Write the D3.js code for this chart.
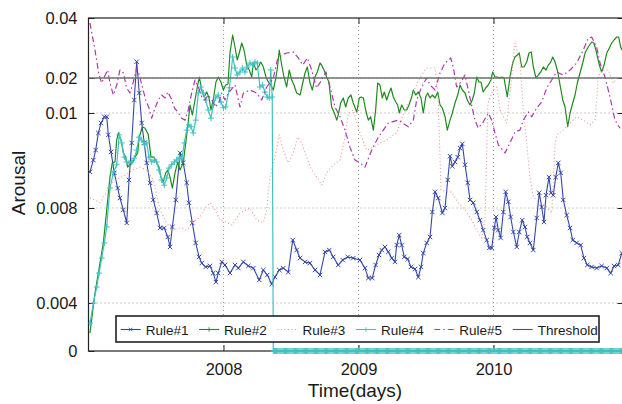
<!DOCTYPE html>
<html>
<head>
<meta charset="utf-8">
<script src="https://cdn.jsdelivr.net/npm/d3@7"></script>
<style>
  body { margin: 0; background: #fff; }
  svg { display: block; font-family: "Liberation Sans", Arial, Helvetica, sans-serif; }
</style>
</head>
<body>
<div id="chart"></div>
<script>
// time is stored as years since 1 Jan 2007
const startYear = 2007;
const lastYear = 2010.963;
const yearTicks = [2008, 2009, 2010];
const arousalTicks = [0, 0.004, 0.008, 0.01, 0.02, 0.04];
const arousalLabels = ["0", "0.004", "0.008", "0.01", "0.02", "0.04"];
const threshold = 0.02;
const legendNames = ["Rule#1", "Rule#2", "Rule#3", "Rule#4", "Rule#5", "Threshold"];

const rule1 = [[0.011,0.00876],[0.036,0.00901],[0.053,0.00922],[0.073,0.00958],[0.093,0.00979],[0.117,0.00992],[0.135,0.00992],[0.147,0.00954],[0.167,0.00918],[0.191,0.00874],[0.216,0.00842],[0.233,0.00821],[0.258,0.00792],[0.283,0.00737],[0.3,0.00859],[0.32,0.00937],[0.339,0.01372],[0.357,0.02543],[0.376,0.01572],[0.394,0.00979],[0.413,0.00937],[0.431,0.00895],[0.456,0.00853],[0.48,0.00817],[0.505,0.00779],[0.53,0.00716],[0.561,0.00716],[0.587,0.00678],[0.604,0.00636],[0.621,0.0072],[0.646,0.00817],[0.678,0.00916],[0.702,0.00895],[0.727,0.00853],[0.744,0.00811],[0.769,0.00737],[0.794,0.00653],[0.819,0.00594],[0.839,0.00568],[0.868,0.00552],[0.9,0.00556],[0.924,0.00526],[0.944,0.00488],[0.961,0.00526],[0.987,0.00573],[1.011,0.0056],[1.048,0.00526],[1.085,0.0056],[1.11,0.00547],[1.147,0.00573],[1.184,0.00556],[1.221,0.00547],[1.265,0.00497],[1.295,0.00539],[1.324,0.00518],[1.357,0.0048],[1.381,0.00509],[1.413,0.00539],[1.443,0.00547],[1.48,0.0053],[1.513,0.00665],[1.542,0.00623],[1.567,0.00589],[1.604,0.00573],[1.641,0.00568],[1.678,0.00539],[1.715,0.00518],[1.752,0.00615],[1.784,0.00623],[1.813,0.00594],[1.85,0.0056],[1.883,0.00581],[1.92,0.00594],[1.961,0.00589],[2.011,0.00581],[2.048,0.00547],[2.073,0.00505],[2.102,0.00505],[2.127,0.0056],[2.152,0.00602],[2.172,0.00623],[2.196,0.00636],[2.221,0.00615],[2.246,0.00589],[2.27,0.00573],[2.283,0.00644],[2.302,0.00686],[2.32,0.00644],[2.339,0.00594],[2.364,0.00585],[2.389,0.00552],[2.419,0.00543],[2.443,0.00509],[2.463,0.00552],[2.48,0.0061],[2.505,0.00653],[2.53,0.00678],[2.547,0.00783],[2.567,0.00834],[2.591,0.00821],[2.621,0.00779],[2.641,0.008],[2.661,0.00859],[2.678,0.00909],[2.695,0.00888],[2.715,0.00897],[2.735,0.00907],[2.752,0.00926],[2.769,0.00935],[2.789,0.00891],[2.809,0.00853],[2.826,0.00817],[2.85,0.00811],[2.876,0.00783],[2.9,0.00749],[2.924,0.00707],[2.95,0.00665],[2.969,0.00632],[2.987,0.00632],[3.006,0.00716],[3.019,0.00762],[3.036,0.00707],[3.053,0.00674],[3.073,0.00783],[3.09,0.00834],[3.11,0.00813],[3.127,0.00762],[3.147,0.00699],[3.172,0.00636],[3.191,0.00699],[3.213,0.00749],[3.233,0.0072],[3.25,0.00678],[3.27,0.00653],[3.295,0.00623],[3.32,0.00758],[3.339,0.00832],[3.357,0.00802],[3.374,0.00741],[3.389,0.00827],[3.411,0.00865],[3.426,0.00832],[3.443,0.00827],[3.461,0.00865],[3.48,0.00895],[3.498,0.00874],[3.517,0.00817],[3.542,0.0077],[3.567,0.00716],[3.587,0.00665],[3.616,0.00653],[3.646,0.00644],[3.67,0.00589],[3.695,0.0056],[3.727,0.00552],[3.764,0.00547],[3.801,0.00556],[3.839,0.00547],[3.868,0.00526],[3.893,0.00556],[3.924,0.0056],[3.95,0.0061]];

const rule2 = [[0.011,0.0015],[0.048,0.00442],[0.085,0.00568],[0.11,0.00653],[0.135,0.00792],[0.159,0.00865],[0.176,0.00895],[0.196,0.00897],[0.209,0.00943],[0.221,0.00958],[0.241,0.00943],[0.258,0.00916],[0.276,0.00907],[0.29,0.00886],[0.307,0.00891],[0.324,0.00895],[0.344,0.00907],[0.364,0.00916],[0.376,0.00949],[0.399,0.00971],[0.419,0.00968],[0.443,0.00954],[0.463,0.00907],[0.487,0.00907],[0.505,0.00895],[0.522,0.00886],[0.537,0.00865],[0.554,0.00855],[0.572,0.00874],[0.587,0.0088],[0.604,0.00865],[0.621,0.00842],[0.641,0.00874],[0.661,0.00897],[0.678,0.0088],[0.702,0.00895],[0.72,0.00937],[0.735,0.00971],[0.752,0.01229],[0.769,0.00996],[0.789,0.01371],[0.806,0.01743],[0.821,0.02033],[0.839,0.01657],[0.856,0.01457],[0.876,0.016],[0.893,0.01429],[0.907,0.01086],[0.924,0.01371],[0.944,0.01886],[0.961,0.02033],[0.981,0.01886],[0.999,0.01657],[1.016,0.018],[1.033,0.01829],[1.048,0.02833],[1.068,0.03433],[1.085,0.03033],[1.102,0.026],[1.117,0.02833],[1.135,0.03167],[1.152,0.02933],[1.172,0.02433],[1.191,0.02267],[1.209,0.02033],[1.221,0.025],[1.241,0.02267],[1.258,0.02367],[1.276,0.02533],[1.295,0.02367],[1.315,0.02033],[1.332,0.01886],[1.35,0.018],[1.369,0.01657],[1.389,0.02033],[1.399,0.02333],[1.413,0.02933],[1.431,0.02433],[1.448,0.02033],[1.468,0.01743],[1.487,0.02267],[1.505,0.01943],[1.522,0.018],[1.542,0.01571],[1.567,0.01514],[1.587,0.01857],[1.604,0.02167],[1.621,0.02367],[1.641,0.01857],[1.658,0.01657],[1.678,0.02033],[1.695,0.022],[1.715,0.025],[1.727,0.02433],[1.744,0.02267],[1.764,0.02033],[1.781,0.01886],[1.801,0.01171],[1.821,0.01],[1.839,0.00985],[1.85,0.00996],[1.868,0.01286],[1.887,0.01429],[1.905,0.01171],[1.924,0.01429],[1.944,0.01514],[1.961,0.01286],[1.987,0.01029],[2.006,0.01429],[2.019,0.01457],[2.036,0.01429],[2.053,0.01086],[2.073,0.00985],[2.09,0.00992],[2.11,0.00964],[2.127,0.01086],[2.142,0.01857],[2.159,0.018],[2.176,0.01429],[2.191,0.016],[2.209,0.01371],[2.226,0.01571],[2.241,0.01714],[2.258,0.01457],[2.276,0.01314],[2.29,0.01229],[2.302,0.01],[2.32,0.01229],[2.339,0.01086],[2.357,0.01086],[2.374,0.01229],[2.394,0.01457],[2.406,0.01657],[2.424,0.01514],[2.443,0.016],[2.463,0.01429],[2.48,0.01],[2.498,0.01457],[2.513,0.01571],[2.53,0.01429],[2.547,0.01514],[2.567,0.01429],[2.587,0.016],[2.604,0.01229],[2.621,0.01143],[2.641,0.00992],[2.658,0.00964],[2.678,0.00985],[2.695,0.01],[2.715,0.01286],[2.735,0.01514],[2.752,0.018],[2.769,0.01657],[2.789,0.01571],[2.806,0.01371],[2.826,0.01229],[2.843,0.01371],[2.858,0.01571],[2.876,0.02033],[2.893,0.01886],[2.907,0.01886],[2.924,0.016],[2.942,0.01714],[2.961,0.018],[2.981,0.01943],[2.994,0.022],[3.011,0.02033],[3.028,0.02033],[3.043,0.02],[3.061,0.02033],[3.078,0.02],[3.102,0.01457],[3.122,0.02033],[3.142,0.025],[3.159,0.027],[3.176,0.02767],[3.191,0.02833],[3.209,0.02367],[3.226,0.02367],[3.246,0.02533],[3.263,0.02833],[3.28,0.02867],[3.295,0.02367],[3.315,0.02],[3.332,0.021],[3.35,0.022],[3.369,0.02367],[3.389,0.02267],[3.406,0.02433],[3.424,0.02533],[3.439,0.027],[3.456,0.02533],[3.476,0.022],[3.493,0.018],[3.513,0.01371],[3.53,0.01171],[3.55,0.00971],[3.567,0.01],[3.587,0.01286],[3.604,0.01514],[3.621,0.01857],[3.641,0.02167],[3.661,0.025],[3.678,0.02833],[3.702,0.03033],[3.727,0.032],[3.744,0.03167],[3.764,0.02833],[3.784,0.02433],[3.801,0.022],[3.819,0.02433],[3.839,0.02833],[3.858,0.03],[3.876,0.03167],[3.893,0.03267],[3.913,0.03367],[3.927,0.03367],[3.942,0.03033],[3.952,0.02933]];

const rule3 = [[0.011,0.00821],[0.048,0.00817],[0.085,0.00811],[0.122,0.00827],[0.159,0.00848],[0.196,0.00859],[0.233,0.00863],[0.27,0.00869],[0.33,0.0088],[0.381,0.00886],[0.433,0.0088],[0.478,0.00859],[0.53,0.00792],[0.574,0.00741],[0.626,0.00707],[0.678,0.00716],[0.73,0.00707],[0.774,0.00741],[0.826,0.00762],[0.863,0.008],[0.9,0.00811],[0.937,0.00792],[0.974,0.00749],[1.019,0.00741],[1.063,0.00728],[1.122,0.00779],[1.196,0.008],[1.246,0.00749],[1.295,0.00737],[1.32,0.00792],[1.344,0.00865],[1.381,0.00907],[1.413,0.00954],[1.443,0.00922],[1.48,0.00895],[1.517,0.00916],[1.547,0.00949],[1.579,0.00937],[1.616,0.00907],[1.653,0.0088],[1.69,0.00865],[1.727,0.00848],[1.764,0.00874],[1.813,0.00891],[1.863,0.00901],[1.9,0.00949],[1.924,0.01],[1.961,0.01086],[2.011,0.00958],[2.061,0.00922],[2.11,0.00928],[2.159,0.00937],[2.209,0.00943],[2.283,0.00958],[2.33,0.00996],[2.381,0.01371],[2.419,0.01714],[2.456,0.02033],[2.505,0.02333],[2.567,0.02333],[2.591,0.01371],[2.611,0.00838],[2.648,0.00834],[2.69,0.00834],[2.739,0.00811],[2.789,0.00792],[2.839,0.00749],[2.876,0.00707],[2.913,0.00674],[2.937,0.00749],[2.959,0.01286],[2.996,0.01657],[3.026,0.01743],[3.048,0.01086],[3.098,0.00979],[3.135,0.02033],[3.159,0.03167],[3.196,0.026],[3.221,0.01086],[3.246,0.00937],[3.27,0.00865],[3.295,0.00823],[3.344,0.00811],[3.394,0.00802],[3.431,0.00779],[3.443,0.00853],[3.456,0.00937],[3.48,0.00958],[3.517,0.00964],[3.567,0.00979],[3.616,0.00992],[3.665,0.00985],[3.715,0.00975],[3.752,0.00985],[3.776,0.02033],[3.801,0.02267],[3.85,0.02267],[3.887,0.01857],[3.924,0.02033]];

const rule4 = [[0.011,0.00233],[0.036,0.004],[0.061,0.00467],[0.078,0.00526],[0.098,0.00589],[0.117,0.00653],[0.135,0.0072],[0.159,0.00842],[0.184,0.00874],[0.209,0.00891],[0.228,0.00954],[0.246,0.00937],[0.265,0.00907],[0.283,0.00897],[0.3,0.00895],[0.32,0.00897],[0.339,0.00905],[0.357,0.00922],[0.374,0.00949],[0.394,0.00943],[0.413,0.00933],[0.431,0.00937],[0.448,0.00907],[0.468,0.00897],[0.487,0.00901],[0.505,0.00897],[0.522,0.0088],[0.542,0.00859],[0.561,0.00848],[0.579,0.00863],[0.596,0.00884],[0.616,0.00891],[0.636,0.00897],[0.653,0.00901],[0.673,0.00907],[0.69,0.00901],[0.71,0.00937],[0.727,0.00964],[0.744,0.00975],[0.759,0.00971],[0.776,0.00958],[0.794,0.00985],[0.813,0.01571],[0.833,0.01743],[0.85,0.01571],[0.868,0.01371],[0.887,0.01086],[0.907,0.00989],[0.924,0.01229],[0.942,0.01429],[0.961,0.01514],[0.981,0.01314],[0.999,0.0115],[1.016,0.01171],[1.044,0.0172],[1.068,0.027],[1.085,0.02333],[1.102,0.021],[1.122,0.022],[1.142,0.02333],[1.159,0.022],[1.176,0.02367],[1.196,0.025],[1.216,0.02433],[1.233,0.02533],[1.25,0.025],[1.27,0.01743],[1.29,0.018],[1.307,0.016],[1.324,0.01457],[1.339,0.01429],[1.35,0.02267],[1.361,0.01457]];
// after this point Rule#4 sits at zero until the end of the record
const rule4DropYear = 1.369;

const rule5 = [[0.011,0.03833],[0.048,0.02933],[0.078,0.021],[0.098,0.01857],[0.117,0.02033],[0.142,0.02267],[0.159,0.01857],[0.184,0.01514],[0.209,0.018],[0.233,0.02267],[0.258,0.02167],[0.283,0.01714],[0.307,0.01571],[0.332,0.01886],[0.357,0.02333],[0.376,0.021],[0.399,0.01743],[0.424,0.01371],[0.448,0.01143],[0.468,0.00989],[0.493,0.01143],[0.517,0.01371],[0.542,0.01514],[0.567,0.01429],[0.587,0.016],[0.611,0.01429],[0.636,0.01143],[0.661,0.01029],[0.69,0.00989],[0.715,0.00985],[0.739,0.01086],[0.764,0.01571],[0.789,0.01943],[0.813,0.01743],[0.839,0.01457],[0.863,0.01371],[0.887,0.01514],[0.913,0.01371],[0.942,0.01171],[0.967,0.01314],[0.987,0.01571],[1.011,0.01371],[1.036,0.01571],[1.085,0.018],[1.122,0.01171],[1.147,0.01571],[1.196,0.01657],[1.246,0.01571],[1.283,0.01371],[1.32,0.01743],[1.369,0.02],[1.399,0.026],[1.431,0.02767],[1.468,0.02833],[1.517,0.02867],[1.554,0.02667],[1.587,0.02433],[1.621,0.02667],[1.653,0.02267],[1.69,0.01714],[1.727,0.01943],[1.759,0.022],[1.789,0.01743],[1.826,0.01171],[1.863,0.00992],[1.9,0.00964],[1.937,0.00928],[1.974,0.00901],[2.011,0.00895],[2.048,0.00886],[2.098,0.00922],[2.147,0.00949],[2.221,0.00979],[2.295,0.00985],[2.369,0.00971],[2.406,0.00985],[2.431,0.01371],[2.468,0.01743],[2.505,0.02],[2.53,0.018],[2.567,0.01657],[2.604,0.02167],[2.641,0.025],[2.683,0.02667],[2.702,0.02367],[2.727,0.01743],[2.759,0.01886],[2.789,0.021],[2.826,0.01429],[2.863,0.00985],[2.887,0.00968],[2.924,0.00981],[2.961,0.01],[2.987,0.00985],[3.011,0.00958],[3.036,0.00933],[3.085,0.00916],[3.122,0.00937],[3.159,0.0096],[3.196,0.00964],[3.221,0.00985],[3.258,0.01029],[3.283,0.00992],[3.32,0.01143],[3.357,0.01314],[3.394,0.01714],[3.431,0.01943],[3.468,0.022],[3.517,0.021],[3.567,0.02267],[3.616,0.025],[3.665,0.02933],[3.702,0.03333],[3.727,0.03367],[3.764,0.03033],[3.789,0.025],[3.826,0.02033],[3.863,0.01457],[3.9,0.00985],[3.937,0.00968]];

const width = 622, height = 404;
const plot = {left: 88.5, right: 623.5, top: 18, bottom: 351};

const svg = d3.select("#chart").append("svg")
    .attr("width", width)
    .attr("height", height);

const x = d3.scaleLinear()
    .domain([startYear, lastYear])
    .range([plot.left, plot.right]);

// the published axis is stretched unevenly between its ticks
const y = d3.scaleLinear()
    .domain(arousalTicks)
    .range([351, 303, 208, 113, 78, 18]);

// Rule#4 zero tail, one point every three days
const rule4Tail = d3.range(rule4DropYear, lastYear - startYear, 3 / 365.25).map(t => [t, 0]);

const series = [
    {data: rule1, color: "#3447a8", width: 1.1, dash: null, marker: "x"},
    {data: rule2, color: "#1e8a1e", width: 1.2, dash: null, marker: null},
    {data: rule3, color: "#f29488", width: 1.1, dash: "1,2.5", marker: null},
    {data: rule4.concat(rule4Tail), color: "#40c2c2", width: 1.2, dash: null, marker: "+"},
    {data: rule5, color: "#ad3aad", width: 1.2, dash: "6,3,1.5,3", marker: null}
];

const markerPath = {
    "x": "M-2.2,-2.2L2.2,2.2M-2.2,2.2L2.2,-2.2",
    "+": "M-3,0H3M0,-3V3"
};

// grid
const grid = svg.append("g").attr("stroke", "#9a9a9a").attr("stroke-dasharray", "1,3");
grid.selectAll("line.vx")
    .data(yearTicks)
    .join("line")
    .attr("x1", d => x(d)).attr("x2", d => x(d))
    .attr("y1", plot.top).attr("y2", plot.bottom);
grid.selectAll("line.hy")
    .data(arousalTicks.filter(d => d > 0 && d < 0.04))
    .join("line")
    .attr("x1", plot.left).attr("x2", plot.right)
    .attr("y1", d => y(d)).attr("y2", d => y(d));

// axes
svg.append("g")
    .attr("transform", `translate(${plot.left},0)`)
    .call(d3.axisLeft(y).tickValues(arousalTicks)
        .tickFormat((d, i) => arousalLabels[i])
        .tickSize(-6).tickPadding(11))
    .call(g => g.select(".domain").remove())
    .call(g => g.selectAll("text").attr("font-size", 16.5).attr("fill", "#1a1a1a").attr("font-family", null));

svg.append("g")
    .attr("transform", `translate(${plot.right},0)`)
    .call(d3.axisRight(y).tickValues(arousalTicks).tickFormat("").tickSize(-6))
    .call(g => g.select(".domain").remove());

svg.append("g")
    .attr("transform", `translate(0,${plot.bottom})`)
    .call(d3.axisBottom(x).tickValues(yearTicks).tickFormat(d3.format("d"))
        .tickSize(-6).tickPadding(12))
    .call(g => g.select(".domain").remove())
    .call(g => g.selectAll("text").attr("font-size", 16.5).attr("fill", "#1a1a1a").attr("font-family", null));

svg.append("g")
    .attr("transform", `translate(0,${plot.top})`)
    .call(d3.axisTop(x).tickValues(yearTicks).tickFormat("").tickSize(-6))
    .call(g => g.select(".domain").remove());

svg.selectAll(".tick line").attr("stroke", "#222");

// frame
svg.append("rect")
    .attr("x", plot.left).attr("y", plot.top)
    .attr("width", plot.right - plot.left).attr("height", plot.bottom - plot.top)
    .attr("fill", "none").attr("stroke", "#222").attr("stroke-width", 1.2);

svg.append("defs").append("clipPath").attr("id", "clip")
    .append("rect")
    .attr("x", plot.left).attr("y", 8)
    .attr("width", plot.right - plot.left).attr("height", 352);

const line = d3.line()
    .x(d => x(startYear + d[0]))
    .y(d => y(d[1]));

const layer = svg.append("g").attr("clip-path", "url(#clip)");

series.forEach(s => {
    layer.append("path")
        .attr("d", line(s.data))
        .attr("fill", "none")
        .attr("stroke", s.color)
        .attr("stroke-width", s.width)
        .attr("stroke-dasharray", s.dash)
        .attr("stroke-linejoin", "round");
    if (s.marker) {
        layer.append("g").selectAll("path")
            .data(s.data)
            .join("path")
            .attr("transform", d => `translate(${x(startYear + d[0])},${y(d[1])})`)
            .attr("d", markerPath[s.marker])
            .attr("stroke", s.color)
            .attr("stroke-width", 1)
            .attr("fill", "none");
    }
});

// threshold
layer.append("line")
    .attr("x1", plot.left).attr("x2", plot.right)
    .attr("y1", y(threshold)).attr("y2", y(threshold))
    .attr("stroke", "#707070").attr("stroke-width", 1.6);

// legend
const legend = svg.append("g");
legend.append("rect")
    .attr("x", 116).attr("y", 316)
    .attr("width", 483).attr("height", 26)
    .attr("fill", "#fff").attr("stroke", "#222").attr("stroke-width", 1.6);

const legendStyles = series.map(s => ({color: s.color, dash: s.dash, marker: s.marker}));
legendStyles[1].marker = "+";
legendStyles.push({color: "#555", dash: null, marker: null});

const item = legend.selectAll("g.item")
    .data(legendNames)
    .join("g")
    .attr("transform", (d, i) => `translate(${120.7 + i * 78.4},329.5)`);

item.append("line")
    .attr("x1", 0).attr("x2", 20)
    .attr("stroke", (d, i) => legendStyles[i].color)
    .attr("stroke-width", 1.1)
    .attr("stroke-dasharray", (d, i) => legendStyles[i].dash);

item.filter((d, i) => legendStyles[i].marker)
    .append("path")
    .attr("transform", "translate(10,0) scale(0.8)")
    .attr("d", (d) => markerPath[legendStyles[legendNames.indexOf(d)].marker])
    .attr("stroke", d => legendStyles[legendNames.indexOf(d)].color)
    .attr("fill", "none");

item.append("text")
    .attr("x", 25).attr("y", 5)
    .attr("font-size", 13.5)
    .attr("fill", "#1a1a1a")
    .text(d => d);

// axis titles
svg.append("text")
    .attr("transform", "translate(25,183) rotate(-90)")
    .attr("text-anchor", "middle")
    .attr("font-size", 19)
    .attr("fill", "#1a1a1a")
    .text("Arousal");

svg.append("text")
    .attr("x", 355).attr("y", 397)
    .attr("text-anchor", "middle")
    .attr("font-size", 19)
    .attr("fill", "#1a1a1a")
    .text("Time(days)");
</script>
</body>
</html>
